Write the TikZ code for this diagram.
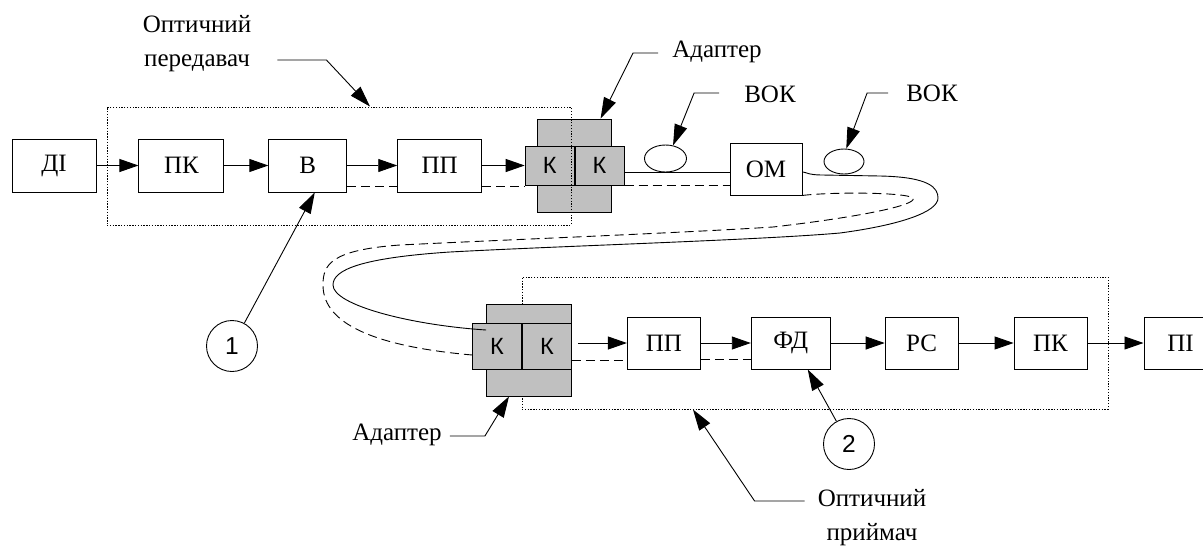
\documentclass[tikz,border=0pt]{standalone}
\usepackage{fontspec}
\setmainfont{Liberation Serif}
\newfontfamily\kfont{Liberation Sans}
\usepackage{tikz}
\usetikzlibrary{arrows.meta,positioning,shapes.geometric,calc}
\definecolor{ink}{HTML}{000000}
\definecolor{adgray}{HTML}{C0C0C0}
\tikzset{
  unitbox/.style={rectangle,draw=ink,line width=0.9pt,fill=white,text=ink,
    font=\fontsize{25}{30}\selectfont,minimum width=73pt,minimum height=52pt,inner sep=0pt},
  adbody/.style={rectangle,draw=ink,line width=0.9pt,fill=adgray,inner sep=0pt},
  conbox/.style={rectangle,draw=ink,line width=0.9pt,fill=adgray,text=ink,
    font=\kfont\fontsize{23.5}{27}\selectfont,minimum width=49pt,inner sep=0pt},
  coil/.style={ellipse,draw=ink,line width=0.9pt,inner sep=0pt},
  groupbox/.style={rectangle,draw=ink,line width=1pt,dash pattern=on 1.3pt off 1.5pt,inner sep=0pt},
  sigarr/.style={-{Triangle[length=19pt,width=13pt]},line width=0.9pt,draw=ink},
  callarr/.style={-{Triangle[length=21pt,width=13pt]},line width=0.9pt,draw=ink},
  optline/.style={line width=0.9pt,draw=ink},
  eline/.style={line width=0.9pt,draw=ink,dash pattern=on 9pt off 5pt},
  numcirc/.style={circle,draw=ink,line width=0.9pt,minimum size=51pt,inner sep=0pt,
    font=\kfont\fontsize{24.5}{28}\selectfont},
  caplabel/.style={font=\fontsize{25}{34}\selectfont,align=center,text=ink,inner sep=0pt},
}

\begin{document}
\begin{tikzpicture}[x=1pt,y=-1pt]
  \useasboundingbox (0,0) rectangle (1203,547);

  % transmitter side
  \node[unitbox, minimum width=84pt, minimum height=53pt] (di) at (54,165.5) {ДІ};
  \node[unitbox, right=42pt of di, minimum width=85pt, minimum height=53pt] (pk1) {ПК};
  \node[unitbox, right=44pt of pk1, minimum width=78pt, minimum height=53pt] (v) {В};
  \node[unitbox, right=50pt of v, minimum width=84pt, minimum height=53pt] (pp1) {ПП};
  \node[adbody, right=55pt of pp1, minimum width=74pt, minimum height=93pt] (ad1) {};
  \node[conbox, anchor=east, minimum height=39pt] (k1) at (ad1.center) {К};
  \node[conbox, anchor=west, minimum height=39pt] (k2) at (ad1.center) {К};
  \node[groupbox, minimum width=464pt, minimum height=118pt] (tx) at (339,166) {};
  \node[unitbox, right=105pt of k2, minimum width=72pt, yshift=-3.5pt] (om) {ОМ};
  \node[coil, minimum width=42pt, minimum height=27pt] (vok1) at (665.5,158.5) {};
  \node[coil, minimum width=40pt, minimum height=25pt] (vok2) at (844,161.5) {};

  \draw[sigarr] (di) -- (pk1);
  \draw[sigarr] (pk1) -- (v);
  \draw[sigarr] (v) -- (pp1);
  \draw[sigarr] (pp1) -- (k1);
  \draw[eline] ([yshift=-20.5pt]v.east) -- ([yshift=-20.5pt]pp1.west);
  \draw[eline] ([yshift=-21pt]pp1.east) -- ([yshift=-21pt]k1.west);
  \draw[optline] ([yshift=-6.5pt]k2.east) -- ([yshift=-3pt]om.west);
  \draw[eline] ([yshift=-19.5pt]k2.east) -- ([yshift=-16pt]om.west);

  % receiver side
  \node[groupbox, minimum width=586pt, minimum height=132pt] (rx) at (815,343) {};
  \node[adbody, minimum width=85pt, minimum height=92pt] (ad2) at (528.5,350) {};
  \node[conbox, anchor=east, minimum height=46pt] (k3) at (522,346) {К};
  \node[conbox, anchor=west, minimum height=46pt] (k4) at (522,346) {К};
  \node[unitbox, right=55pt of k4, yshift=3pt] (pp2) {ПП};
  \node[unitbox, right=50pt of pp2, minimum width=79pt] (fd) {ФД};
  \node[unitbox, right=54pt of fd] (rs) {РС};
  \node[unitbox, right=55pt of rs] (pk2) {ПК};
  \node[unitbox, right=56pt of pk2] (pi) {ПІ};

  \draw[sigarr] ([xshift=6pt,yshift=3pt]k4.east) -- (pp2.west);
  \draw[sigarr] (pp2) -- (fd);
  \draw[sigarr] (fd) -- (rs);
  \draw[sigarr] (rs) -- (pk2);
  \draw[sigarr] (pk2) -- (pi);
  \draw[eline] ([yshift=-14pt]k4.east) -- ([yshift=-17pt]pp2.west);
  \draw[eline] ([yshift=-16pt]pp2.east) -- ([yshift=-16pt]fd.west);

  % fibre run between the two adapters
  \draw[optline] ([yshift=-3pt]om.east) .. controls (806,172) and (808,175) .. (822,175)
    -- (880,176) .. controls (930,177) and (938,188) .. (938,198)
    .. controls (938,212) and (900,225) .. (840,233)
    .. controls (760,240) and (560,246) .. (450,252)
    .. controls (360,258) and (333,270) .. (333,285)
    .. controls (333,305) and (410,325) .. ([xshift=14pt,yshift=16pt]k3.west);
  \draw[eline] (om.south east) .. controls (830,192) and (905,192) .. (913,198)
    .. controls (918,205) and (860,217) .. (773,227)
    .. controls (680,233) and (500,240) .. (400,245)
    .. controls (330,250) and (323,265) .. (323,285)
    .. controls (323,318) and (360,345) .. ([yshift=-9pt]k3.west);

  % labels and call-outs
  \node[caplabel] (txlbl) at (197,44) {Оптичний\\передавач};
  \draw[callarr] ([xshift=26pt,yshift=-16pt]txlbl.east) -- ++(49,0) -- ([xshift=31pt]tx.north);
  \node[caplabel, anchor=base] (adlbl1) at (717,57) {Адаптер};
  \draw[callarr] ([xshift=-14pt,yshift=4pt]adlbl1.base west) -- ++(-25,0) -- ([xshift=26pt]ad1.north);
  \node[caplabel, anchor=base] (voklbl1) at (770,102) {ВОК};
  \draw[callarr] ([xshift=-25pt,yshift=9pt]voklbl1.base west) -- ++(-25,0) -- (vok1.60);
  \node[caplabel, anchor=base] (voklbl2) at (932,101) {ВОК};
  \draw[callarr] ([xshift=-18pt,yshift=8pt]voklbl2.base west) -- ++(-21,0) -- (vok2.80);
  \node[caplabel, anchor=base] (adlbl2) at (397,440) {Адаптер};
  \draw[callarr] ([xshift=8pt,yshift=4pt]adlbl2.base east) -- ++(35,0) -- ([xshift=-19.5pt]ad2.south);
  \node[caplabel] (rxlbl) at (872,518) {Оптичний\\приймач};
  \draw[callarr] ([xshift=-13pt,yshift=17pt]rxlbl.west) -- ++(-50,0) -- ([xshift=-122pt]rx.south);
  \node[numcirc] (c1) at (232,346) {1};
  \draw[callarr] (c1) -- ([xshift=7pt]v.south);
  \node[numcirc] (c2) at (849,444) {2};
  \draw[callarr] (c2) -- ([xshift=17pt]fd.south);
\end{tikzpicture}
\end{document}
